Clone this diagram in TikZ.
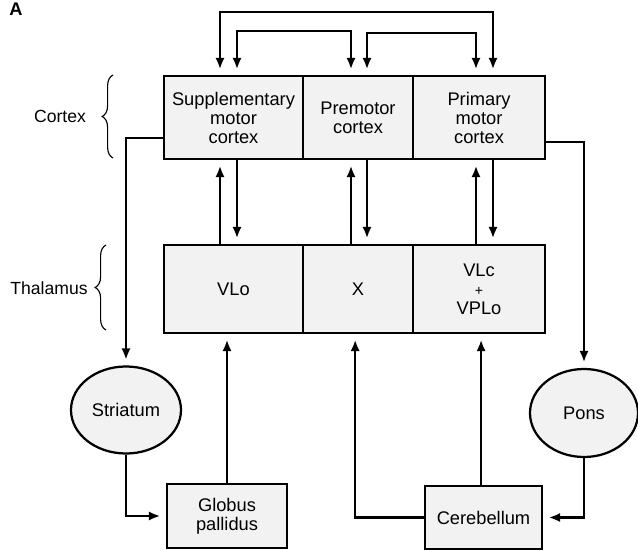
\documentclass[tikz,border=0pt]{standalone}
\usepackage{fontspec}
\setmainfont{Liberation Sans}
\usepackage{tikz}
\usetikzlibrary{arrows.meta, shapes.geometric, decorations.pathreplacing}

\begin{document}
\begin{tikzpicture}[x=0.025cm, y=-0.025cm,
        box/.style={draw, line width=1.6pt, fill=gray!10, inner sep=0pt, align=center, font=\fontsize{13}{13.5}\selectfont},
        blob/.style={box, ellipse},
        wire/.style={line width=1.6pt, >={Latex[length=8pt,width=6.5pt]}, shorten >=4pt},
        side/.style={font=\fontsize{12.5}{13}\selectfont}
    ]
        \useasboundingbox (0,0) rectangle (638,551);

        % columns of the cortex <-> thalamus wires
        \coordinate (c1) at (220,0);
        \coordinate (c2) at (237,0);
        \coordinate (c3) at (351,0);
        \coordinate (c4) at (367,0);
        \coordinate (c5) at (476,0);
        \coordinate (c6) at (493,0);
        \coordinate (top1) at (0,12);
        \coordinate (top2) at (0,31);
        \coordinate (top3) at (0,33);

        \node[font=\bfseries\fontsize{13}{13}\selectfont, inner sep=0pt, anchor=north] (tag) at (16,3) {A};

        % cortex
        \node[box, minimum width=3.475cm, minimum height=2.075cm] (sma) at (233.5,117.5) {Supplementary\\motor\\cortex};
        \node[box, minimum width=2.75cm, minimum height=2.075cm] (pm) at (358,117.5) {Premotor\\cortex};
        \node[box, minimum width=3.3cm, minimum height=2.075cm] (m1) at (479,117.5) {Primary\\motor\\cortex};

        % thalamus
        \node[box, minimum width=3.475cm, minimum height=2.2cm] (vlo) at (233.5,289) {VLo};
        \node[box, minimum width=2.75cm, minimum height=2.2cm] (xn) at (358,289) {X};
        \node[box, minimum width=3.3cm, minimum height=2.2cm] (vlc) at (479,289) {VLc\\{\fontsize{10}{10}\selectfont +}\\VPLo};

        % below
        \node[blob, minimum width=2.75cm, minimum height=2.175cm] (str) at (126,410) {Striatum};
        \node[blob, minimum width=2.7cm, minimum height=2.2cm] (pons) at (584,413) {Pons};
        \node[box, minimum width=3cm, minimum height=1.6cm] (gp) at (227,516) {Globus\\pallidus};
        \node[box, minimum width=2.925cm, minimum height=1.575cm] (cb) at (483.5,517.5) {Cerebellum};

        \node[side] (ctxlab) at (60,116) {Cortex};
        \node[side] (thallab) at (49,288) {Thalamus};
        \draw[decorate, decoration={brace, amplitude=0.27cm}, line width=0.8pt] (113,158) -- (113,75);
        \draw[decorate, decoration={brace, amplitude=0.27cm}, line width=0.8pt] (106,330) -- (106,245);

        % cortico-cortical loops
        \draw[wire, <->, shorten <=4pt] (sma.north -| c1) -- (top1 -| c1) -- (top1 -| c6) -- (m1.north -| c6);
        \draw[wire, <->, shorten <=4pt] (sma.north -| c2) -- (top2 -| c2) -- (top2 -| c3) -- (pm.north -| c3);
        \draw[wire, <->, shorten <=4pt] (pm.north -| c4) -- (top3 -| c4) -- (top3 -| c5) -- (m1.north -| c5);

        \foreach \u/\d/\a/\b in {c1/c2/sma/vlo, c3/c4/pm/xn, c5/c6/m1/vlc} {
            \draw[wire, ->] (\b.north -| \u) -- (\a.south -| \u);
            \draw[wire, ->] (\a.south -| \d) -- (\b.north -| \d);
        }

        \coordinate (xin) at ([xshift=-0.07cm]xn.south);
        \coordinate (cbup) at ([xshift=-0.06cm]cb.north);

        \draw[wire, ->] ([yshift=-0.51cm]sma.west) -| (str.north);
        \draw[wire, ->] ([yshift=-0.61cm]m1.east) -| (pons.north);
        \draw[wire, ->] (str.south) |- (gp.west);
        \draw[wire, ->] (gp.north) -- (vlo.south -| gp.north);
        \draw[wire, ->] (pons.south) |- (cb.east);
        \draw[wire, ->] (cb.west) -| (xin);
        \draw[wire, ->] (cbup) -- (vlc.south -| cbup);
    \end{tikzpicture}
\end{document}
